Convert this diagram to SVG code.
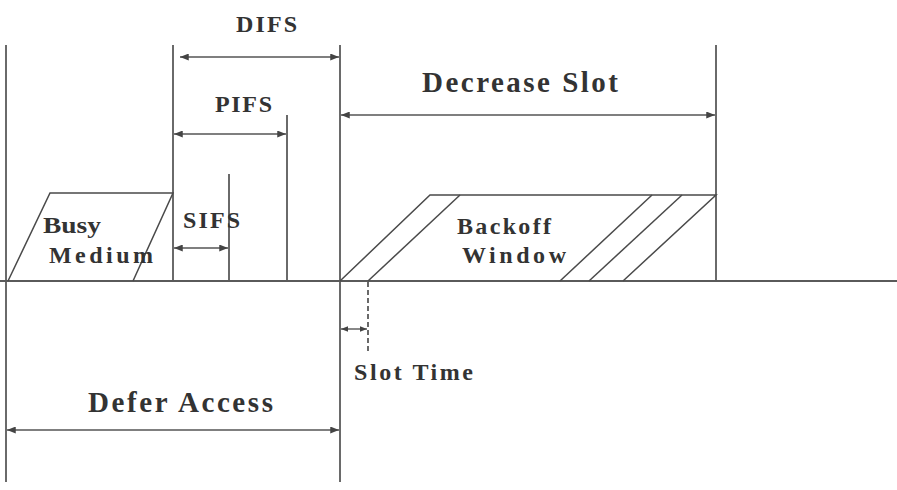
<svg xmlns="http://www.w3.org/2000/svg" width="897" height="490" viewBox="0 0 897 490">
<defs>
<marker id="ah" viewBox="0 0 10 8" refX="10" refY="4" markerWidth="9" markerHeight="7" markerUnits="userSpaceOnUse" orient="auto-start-reverse">
<path d="M0,0 L10,4 L0,8 Z" fill="#444"/>
</marker>
<marker id="ahs" viewBox="0 0 10 8" refX="10" refY="4" markerWidth="7" markerHeight="6" markerUnits="userSpaceOnUse" orient="auto-start-reverse">
<path d="M0,0 L10,4 L0,8 Z" fill="#444"/>
</marker>
</defs>
<style>
.ln{stroke:#5a5a5a;stroke-width:1.8;fill:none}
.sh{stroke:#4a4a4a;stroke-width:1.5;fill:none}
.ar{stroke:#555;stroke-width:1.6;fill:none;marker-start:url(#ah);marker-end:url(#ah)}
.ars{stroke:#555;stroke-width:1.4;fill:none;marker-start:url(#ahs);marker-end:url(#ahs)}
.t{font-family:"Liberation Serif","DejaVu Serif",serif;font-weight:bold;fill:#333}
.m{font-size:24px}
.l{font-size:29px}
</style>
<rect width="897" height="490" fill="#fff"/>
<g id="axes">
<line class="ln" x1="0" y1="281" x2="897" y2="281"/>
<line class="ln" x1="6" y1="45" x2="6" y2="482"/>
<line class="ln" x1="173" y1="45" x2="173" y2="281"/>
<line class="ln" x1="340" y1="45" x2="340" y2="482"/>
<line class="ln" x1="716" y1="45" x2="716" y2="281"/>
<line class="ln" x1="287" y1="115" x2="287" y2="281"/>
<line class="ln" x1="229" y1="174" x2="229" y2="281"/>
<line class="ln" x1="368" y1="282" x2="368" y2="352" stroke-dasharray="5,3" stroke-width="1.4"/>
</g>
<g id="busy-medium">
<path class="sh" d="M8,281 L50,193 L173,193 L133,281"/>
<text class="t m" x="43" y="233" textLength="58" lengthAdjust="spacingAndGlyphs">Busy</text>
<text class="t m" x="49" y="263" textLength="104" lengthAdjust="spacing">Medium</text>
</g>
<g id="backoff-window">
<path class="sh" d="M340,281 L430,195 L716,195 L623,281"/>
<line class="sh" x1="368" y1="281" x2="460" y2="195"/>
<line class="sh" x1="560" y1="281" x2="652" y2="195"/>
<line class="sh" x1="589" y1="281" x2="682" y2="195"/>
<text class="t m" x="457" y="234" textLength="94" lengthAdjust="spacing">Backoff</text>
<text class="t m" x="462" y="263" textLength="104" lengthAdjust="spacing">Window</text>
</g>
<g id="connectors">
<line class="ar" x1="180" y1="57" x2="339" y2="57"/>
<line class="ar" x1="174" y1="134" x2="286" y2="134"/>
<line class="ar" x1="174" y1="248" x2="228" y2="248"/>
<line class="ar" x1="341" y1="115" x2="715" y2="115"/>
<line class="ar" x1="7" y1="430" x2="339" y2="430"/>
<line class="ars" x1="341" y1="329" x2="367" y2="329"/>
</g>
<g id="labels">
<text class="t m" x="236" y="32" textLength="61" lengthAdjust="spacing">DIFS</text>
<text class="t m" x="215" y="112" textLength="57" lengthAdjust="spacing">PIFS</text>
<text class="t m" x="183" y="228" textLength="57" lengthAdjust="spacing">SIFS</text>
<text class="t l" x="422" y="92" textLength="196" lengthAdjust="spacing">Decrease Slot</text>
<text class="t l" x="88" y="412" textLength="185" lengthAdjust="spacing">Defer Access</text>
<text class="t m" x="354" y="380" textLength="119" lengthAdjust="spacing">Slot Time</text>
</g>
</svg>
